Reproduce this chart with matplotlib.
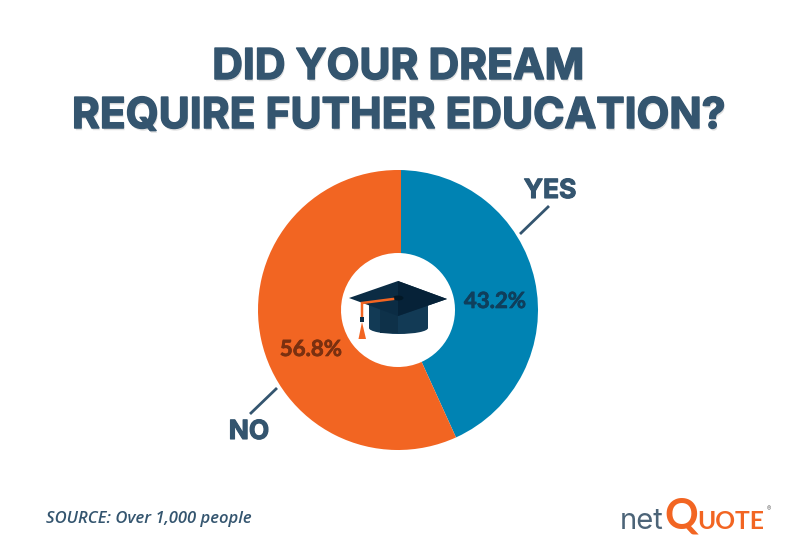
import matplotlib
matplotlib.use("Agg")
import matplotlib.pyplot as plt
import matplotlib.patheffects as pe
from matplotlib.patches import Polygon, Ellipse, Rectangle, Circle

title_lines = ["DID YOUR DREAM", "REQUIRE FUTHER EDUCATION?"]
categories = ["YES", "NO"]
values = [43.2, 56.8]
colors = ["#0083b3", "#f26522"]
value_labels = ["43.2%", "56.8%"]
source = "SOURCE: Over 1,000 people"

NAVY = "#34556f"
plt.rcParams["font.family"] = ["Inter", "DejaVu Sans"]
fig = plt.figure(figsize=(8, 5.56), dpi=100, facecolor="white")

# Pie axes: centre (398,310), radius 140 px
R = 140
ax = fig.add_axes([(398 - R) / 800, (556 - 310 - R) / 556, 2 * R / 800, 2 * R / 556])
ax.pie(values, colors=colors, startangle=90, counterclock=False, radius=1,
       wedgeprops=dict(width=1 - 57 / R, linewidth=0))
ax.set_xlim(-1, 1)
ax.set_ylim(-1, 1)
ax.set_aspect("equal")
ax.axis("off")

# Overlay in pixel coordinates
ov = fig.add_axes([0, 0, 1, 1], facecolor="none")
ov.set_xlim(0, 800)
ov.set_ylim(556, 0)
ov.axis("off")

# The reference's top seam sits slightly right of the centre
seam = Rectangle((397.5, 165), 3.5, 88, fc=colors[1], ec="none", zorder=1)
ov.add_patch(seam)
seam.set_clip_path(Circle((398, 310), R, transform=ov.transData))

stroke = [pe.withStroke(linewidth=0.8, foreground=NAVY)]
for txt, y in zip(title_lines, [63, 112]):
    t = ov.text(398, y, txt, ha="center", va="center_baseline", fontsize=30.6, fontweight="bold",
                color=NAVY)
    t.set_path_effects([pe.withSimplePatchShadow(offset=(0.8, -1.6), shadow_rgbFace="#999999", alpha=0.3),
                        pe.withStroke(linewidth=1.1, foreground=NAVY)])

ov.text(550, 191, categories[0], ha="center", va="center", fontsize=19, fontweight="bold", color=NAVY,
        path_effects=stroke)
ov.text(249, 432, categories[1], ha="center", va="center", fontsize=19, fontweight="bold", color=NAVY,
        path_effects=stroke)
ov.plot([520, 549], [234, 206], color=NAVY, lw=2, solid_capstyle="butt")
ov.plot([250, 277], [414, 388], color=NAVY, lw=2, solid_capstyle="butt")

ov.text(495, 301.5, value_labels[0], ha="center", va="center", fontsize=16, fontweight="bold",
        color="#0f3f5c", family=["Lato", "DejaVu Sans"],
        path_effects=[pe.withStroke(linewidth=0.5, foreground="#0f3f5c")])
ov.text(311, 349.5, value_labels[1], ha="center", va="center", fontsize=16, fontweight="bold",
        color="#7a3010", family=["Lato", "DejaVu Sans"],
        path_effects=[pe.withStroke(linewidth=0.5, foreground="#7a3010")])

# Graduation cap icon
ov.add_patch(Rectangle((369, 305), 59, 23, fc="#123a55", ec="none", zorder=3))
ov.add_patch(Ellipse((398.5, 328), 59, 12, fc="#123a55", ec="none", zorder=3))
ov.add_patch(Rectangle((380, 307), 18, 26, fc="#0e3149", ec="none", zorder=3))
ov.add_patch(Polygon([(349, 298), (398, 281), (447, 299), (398, 316)], fc="#0b2c44", ec="none", zorder=4))
ov.add_patch(Polygon([(398, 281), (447, 299), (398, 316)], fc="#062238", ec="none", zorder=4))
ov.add_patch(Ellipse((398, 298), 11, 5, fc="#021826", ec="none", zorder=5))
ov.plot([393, 362, 362], [299, 303, 318], color="#f26522", lw=1.8, zorder=5, solid_joinstyle="miter")
ov.add_patch(Rectangle((360, 317), 4, 5, fc="#0b2c44", ec="none", zorder=6))
ov.add_patch(Polygon([(362, 322), (358.5, 339), (366, 339)], fc="#f26522", ec="none", zorder=6))

ov.text(46, 519, source, ha="left", va="center", fontsize=12, fontweight="semibold", fontstyle="italic",
        color=NAVY, family=["Open Sans", "DejaVu Sans"])

# Logo
ov.text(620, 529, "net", ha="left", va="baseline", fontsize=21, color="#4c6478",
        family=["Inter", "DejaVu Sans"])
ov.text(681.5, 529, "Q", ha="center", va="baseline", fontsize=30, fontweight="bold", color="#f26522",
        family=["Lato", "DejaVu Sans"])
ov.text(697, 529, "UOTE", ha="left", va="baseline", fontsize=17.7, fontweight="bold", color="#f26522",
        family=["Lato", "DejaVu Sans"])
ov.text(769, 509, "®", ha="center", va="center", fontsize=4.5, color="#666666")

fig.savefig("out.png", dpi=100, facecolor="white")
